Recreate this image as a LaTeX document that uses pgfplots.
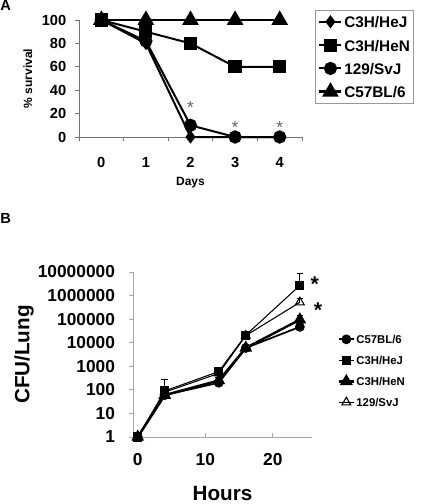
\documentclass[border=0pt]{standalone}
\usepackage{pgfplots}
\pgfplotsset{compat=1.18}
\usepackage{fontspec}
\setmainfont{Liberation Sans}
\begin{document}
\begin{tikzpicture}
\path[use as bounding box] (0,0) rectangle (318pt,-378pt);
\node[anchor=west, inner sep=0, font=\bfseries\fontsize{11}{13}\selectfont] at (0pt,-4pt) {A};
\node[anchor=west, inner sep=0, font=\bfseries\fontsize{11}{13}\selectfont] at (0pt,-163.5pt) {B};
% ---------------- Panel A
\begin{axis}[
  at={(59.25pt,-102.75pt)}, anchor=south west,
  scale only axis, width=167.25pt, height=87.75pt,
  xmin=-0.5, xmax=4.5, ymin=0, ymax=100, clip=false,
  axis x line=bottom, axis y line=left,
  axis line style={black!55,-,line width=0.6pt},
  xtick={0,1,2,3,4}, minor xtick={-0.5,0.5,1.5,2.5,3.5,4.5},
  major x tick style={draw=none},
  ytick={0,20,40,60,80,100},
  tick align=outside, tick style={black!55,line width=0.6pt},
  major tick length=3pt, minor tick length=3pt,
  /pgf/number format/assume math mode=true,
  tick label style={font=\bfseries\fontsize{11}{13}\selectfont},
  xticklabel style={yshift=-9pt},
  yticklabel style={xshift=-3pt},
  xlabel={Days}, ylabel={\% survival},
  label style={font=\bfseries\fontsize{9}{11}\selectfont},
  xlabel style={at={(axis description cs:0.5,-0.393)}, anchor=center},
  ylabel style={at={(axis description cs:-0.229,0.5)}, anchor=center, rotate=0},
  legend cell align=left,
  legend style={at={(axis description cs:1.058,1.085)}, anchor=north west,
    draw=black!40, line width=0.6pt, font=\bfseries\fontsize{11.5}{13}\selectfont,
    nodes={inner sep=1pt, text height=9pt, text depth=0pt},
    row sep=6.5pt, inner xsep=2pt, inner ysep=3pt},
  legend image code/.code={\draw[mark repeat=2,mark phase=2] plot coordinates {(0pt,0pt)(8.25pt,0pt)(16.5pt,0pt)};},
]
\addplot[black, line width=1.5pt, mark=diamond*, mark size=3.8pt] coordinates {(0,100)(1,80)(2,0)(3,0)(4,0)};
\addlegendentry{C3H/HeJ}
\addplot[black, line width=1.5pt, mark=square*, mark size=4.2pt] coordinates {(0,100)(1,90)(2,80)(3,60)(4,60)};
\addlegendentry{C3H/HeN}
\addplot[black, line width=1.5pt, mark=*, mark size=4.2pt] coordinates {(0,100)(1,82)(2,10)(3,0)(4,0)};
\addlegendentry{129/SvJ}
\addplot[black, line width=2.2pt, mark=triangle*, mark size=5pt] coordinates {(0,100)(1,100)(2,100)(3,100)(4,100)};
\addlegendentry{C57BL/6}
\node[black!60, font=\fontsize{13}{13}\selectfont] at (axis cs:2,25) {*};
\node[black!60, font=\fontsize{13}{13}\selectfont] at (axis cs:3,8) {*};
\node[black!60, font=\fontsize{13}{13}\selectfont] at (axis cs:4,8) {*};
\end{axis}
% ---------------- Panel B
\begin{axis}[
  at={(99.75pt,-327.75pt)}, anchor=south west,
  scale only axis, width=134.25pt, height=123.75pt,
  ymode=log, xmin=-0.7, xmax=25.8, ymin=1, ymax=1e7, clip=false,
  axis x line=bottom, axis y line=left,
  axis line style={black!35,-,line width=0.6pt},
  xtick={0,10,20},
  ytick={1,10,100,1000,10000,100000,1000000,10000000},
  yticklabels={1,10,100,1000,10000,100000,1000000,10000000},
  minor tick length=0pt,
  x tick style={black!35, line width=0.6pt}, 
  y tick style={black!35, line width=0.6pt},
  xtick align=inside, ytick align=outside,
  major tick length=3pt,
  /pgf/number format/assume math mode=true,
  tick label style={font=\bfseries\fontsize{13}{15}\selectfont},
  xticklabel style={yshift=-9pt},
  yticklabel style={xshift=-7pt},
  xlabel={Hours}, ylabel={CFU/Lung},
  label style={font=\bfseries\fontsize{15.5}{17}\selectfont},
  xlabel style={at={(axis description cs:0.5,-0.385)}, anchor=base, inner sep=0pt},
  ylabel style={at={(axis description cs:-0.609,0.5)}, anchor=center, rotate=0},
  legend cell align=left,
  legend style={at={(axis description cs:1.142,0.63)}, anchor=north west,
    draw=none, fill=none, font=\bfseries\fontsize{8.5}{10}\selectfont,
    nodes={inner sep=1pt, text height=7pt, text depth=0pt},
    row sep=6.75pt, inner xsep=0pt, inner ysep=0pt},
  legend image code/.code={\draw[mark repeat=2,mark phase=2] plot coordinates {(0pt,0pt)(5.6pt,0pt)(11.25pt,0pt)};},
]
\addplot[black, line width=1.3pt, mark=*, mark size=3pt,
  error bars/.cd, y dir=plus, y explicit,
  error bar style={line width=0.7pt}, error mark options={rotate=90, mark size=2.5pt, line width=0.7pt}]
  table[x=x, y=y, y error=e] {
x y e
0 1 0.3
4 60 20
12 200 60
16 6000 1500
24 47000 12000
};
\addlegendentry{C57BL/6}
\addplot[black, line width=0.8pt, mark=square*, mark size=3pt,
  error bars/.cd, y dir=plus, y explicit,
  error bar style={line width=0.7pt}, error mark options={rotate=90, mark size=2.5pt, line width=0.7pt}]
  table[x=x, y=y, y error=e] {
x y e
0 1 0.5
4 90 180
12 600 300
16 21000 6000
24 2700000 6300000
};
\addlegendentry{C3H/HeJ}
\addplot[black, line width=1.8pt, mark=triangle*, mark size=3.8pt,
  error bars/.cd, y dir=plus, y explicit,
  error bar style={line width=0.7pt}, error mark options={rotate=90, mark size=2.5pt, line width=0.7pt}]
  table[x=x, y=y, y error=e] {
x y e
0 1 0.3
4 60 30
12 250 80
16 6000 1500
24 95000 50000
};
\addlegendentry{C3H/HeN}
\addplot[black, line width=0.8pt, mark=triangle, mark size=3.8pt, mark options={fill=white, line width=0.8pt},
  error bars/.cd, y dir=plus, y explicit,
  error bar style={line width=0.7pt}, error mark options={rotate=90, mark size=2.5pt, line width=0.7pt}]
  table[x=x, y=y, y error=e] {
x y e
0 1 0.3
4 80 40
12 500 300
16 20000 5000
24 520000 230000
};
\addlegendentry{129/SvJ}
\node[font=\bfseries\fontsize{16}{16}\selectfont] at (axis cs:26.2,3000000) {*};
\node[font=\bfseries\fontsize{16}{16}\selectfont] at (axis cs:26.7,250000) {*};
\end{axis}
\end{tikzpicture}
\end{document}
